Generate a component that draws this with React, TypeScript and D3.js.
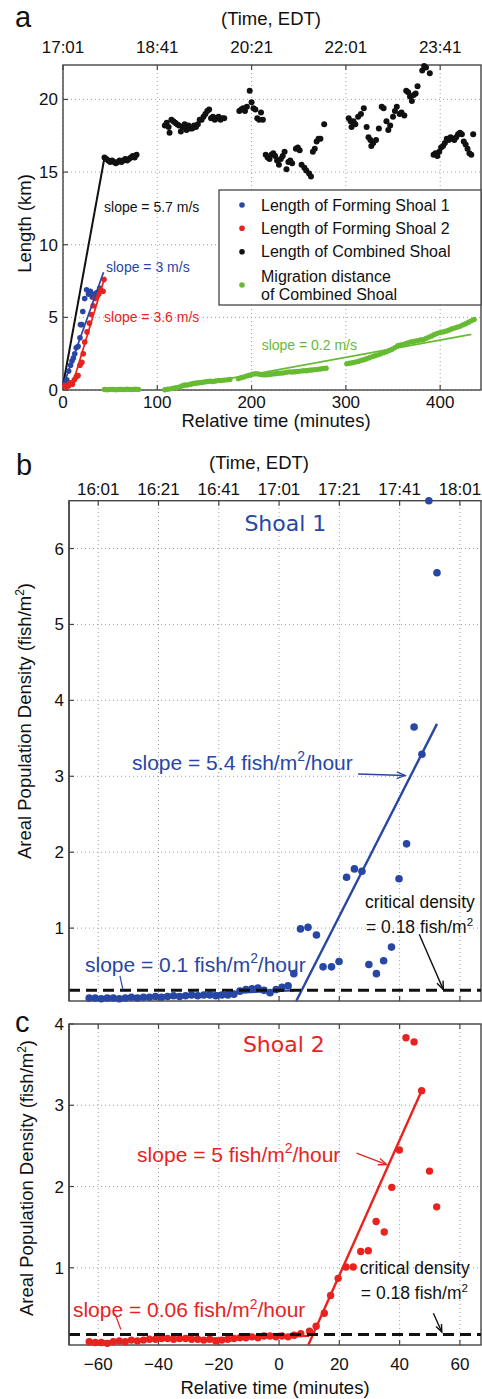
import React from 'react';
import * as d3 from 'd3';

const W = 482;
const H = 1399;
const SANS = '"Liberation Sans", Arial, Helvetica, sans-serif';
const DEJAVU = '"DejaVu Sans", Verdana, sans-serif';

const BLUE = '#2846a4';
const RED = '#e8231f';
const GREEN = '#66bb33';
const BLACK = '#111111';

// ---------------- Panel a: shoal length / migration distance ----------------
const aXTicks = [0, 100, 200, 300, 400];
const aTopLabels = ['17:01', '18:41', '20:21', '22:01', '23:41'];
const aYTicks = [0, 5, 10, 15, 20];

// straight growth segment of the combined shoal (minutes, km)
const combinedRampT = [0.5, 44];
const combinedRampV = [0.5, 16.0];

const combinedT = [
  44, 46, 48, 50, 52, 54, 56, 58, 60, 62, 64, 66, 68, 70, 72, 74, 76, 78,
  108, 110, 112, 113, 115, 117, 119, 121, 123, 125, 127, 129, 131, 133, 135, 137, 139, 141, 143, 145, 147, 149, 151, 153, 155, 157, 159, 161, 163, 165, 167, 169, 171,
  187, 189, 191, 193, 195, 198, 200, 202, 204, 206, 208, 210, 212,
  215, 217, 219, 221, 223, 225, 227, 229, 231, 233, 235, 237, 239, 241, 243, 247, 249, 251, 253, 256, 258, 261, 263, 265, 267, 269, 271, 273, 277,
  303, 305, 306, 308, 310, 313, 316, 319, 322, 324, 326, 327, 329, 332, 335, 338, 340, 343, 345, 347, 350, 352, 354, 357, 359, 362, 364, 366, 368, 370, 372, 374, 376, 381, 383, 385, 389,
  393, 395, 397, 399, 401, 403, 405, 407, 409, 411, 413, 415, 417, 419, 421, 423, 425, 427, 429, 431, 433, 435,
];
const combinedV = [
  16.0, 15.9, 15.8, 15.7, 15.8, 15.7, 15.6, 15.7, 15.8, 15.7, 15.8, 15.9, 15.8, 15.9, 16.0, 16.1, 16.0, 16.2,
  18.2, 18.4, 18.1, 17.7, 18.6, 18.5, 18.4, 18.3, 18.2, 17.8, 18.1, 18.3, 17.9, 18.2, 18.0, 18.0, 18.2, 18.1, 18.3, 18.6, 18.6, 18.8, 19.0, 19.2, 19.3, 18.7, 18.8, 18.6, 18.7, 18.8, 18.6, 18.7, 18.7,
  19.2, 19.3, 19.4, 19.2, 19.5, 20.6, 19.8, 19.4, 19.3, 18.7, 18.6, 19.1, 18.6,
  16.2, 16.0, 15.9, 16.2, 16.3, 16.1, 15.8, 15.5, 15.9, 16.1, 16.4, 15.2, 15.7, 15.8, 15.6, 16.6, 16.7, 16.5, 15.5, 15.3, 15.1, 14.9, 14.7, 16.4, 16.6, 17.1, 17.3, 17.3, 18.3,
  18.7, 18.5, 18.1, 18.5, 18.3, 18.8, 19.0, 19.4, 18.1, 17.4, 17.2, 16.8, 17.0, 17.2, 18.0, 19.5, 19.4, 18.5, 17.9, 18.2, 18.8, 19.2, 19.5, 19.0, 19.1, 18.9, 20.6, 20.5, 20.2, 19.9, 20.3, 20.4, 20.9, 22.0, 22.3, 22.2, 21.8,
  16.2, 16.3, 16.1, 16.4, 16.7, 16.8, 17.0, 17.3, 17.2, 17.4, 17.3, 17.2, 17.4, 17.6, 17.7, 17.6, 17.1, 16.9, 16.6, 16.3, 16.2, 17.6,
];

const shoal1LenT = [2, 4, 6, 8, 9.5, 11, 12.5, 14, 16, 18, 18.5, 20, 21, 23, 25, 27, 29, 31, 33, 36, 39];
const shoal1LenV = [0.5, 0.7, 1.3, 1.7, 2.0, 2.2, 2.5, 2.9, 3.0, 3.6, 4.5, 4.5, 5.4, 6.3, 6.9, 6.6, 6.8, 6.4, 6.6, 6.7, 7.0];

const shoal2LenT = [2, 4, 6, 8, 10, 12, 14, 16, 18, 20, 21.5, 23, 25.5, 28, 30, 32, 34, 36, 38, 40, 42.5, 43.5];
const shoal2LenV = [0.3, 0.2, 0.3, 0.5, 0.4, 0.7, 0.9, 1.0, 1.7, 1.9, 2.5, 3.3, 4.0, 4.6, 5.2, 5.8, 6.3, 6.5, 6.6, 6.9, 6.8, 7.6];

const migrationT = [
  44, 47, 50, 53, 56, 59, 62, 65, 68, 71, 74, 77, 80,
  108, 111, 114, 117, 120, 123, 126, 129, 132, 135, 138, 141, 144, 147, 150, 153, 156, 159, 162, 165, 168, 171, 174, 177,
  186, 189, 192, 195, 198, 201, 204, 207, 210, 213, 216, 219, 222, 225, 228, 231, 234, 237, 240, 243, 246, 249, 252, 255, 258, 261, 264, 267, 270, 273, 276, 279,
  301, 304, 307, 310, 313, 316, 319, 322, 325, 328, 331, 334, 337, 340, 343, 346, 349, 352, 355, 358, 361, 364, 367, 370, 373, 376, 379, 382, 385, 388, 391, 394, 397, 400, 403, 406, 409, 412, 415, 418, 421, 424, 427, 430, 433, 436,
];
const migrationV = [
  0.03, 0.02, 0.04, 0.03, 0.02, 0.03, 0.04, 0.03, 0.05, 0.04, 0.03, 0.05, 0.04,
  0.02, 0.05, 0.08, 0.12, 0.15, 0.20, 0.28, 0.34, 0.35, 0.40, 0.45, 0.48, 0.50, 0.52, 0.55, 0.58, 0.60, 0.58, 0.62, 0.66, 0.66, 0.68, 0.70, 0.72,
  0.78, 0.85, 0.90, 0.97, 1.02, 1.08, 1.12, 1.10, 1.06, 1.04, 1.05, 1.07, 1.10, 1.12, 1.15, 1.16, 1.18, 1.22, 1.25, 1.24, 1.26, 1.28, 1.30, 1.32, 1.33, 1.36, 1.38, 1.40, 1.42, 1.45, 1.48, 1.50,
  1.80, 1.84, 1.88, 1.92, 1.97, 2.03, 2.08, 2.15, 2.22, 2.30, 2.36, 2.42, 2.50, 2.57, 2.63, 2.72, 2.80, 2.92, 3.05, 3.10, 3.14, 3.20, 3.28, 3.32, 3.36, 3.40, 3.44, 3.46, 3.55, 3.64, 3.72, 3.82, 3.90, 3.95, 4.00, 4.05, 4.12, 4.20, 4.26, 4.32, 4.38, 4.48, 4.56, 4.66, 4.76, 4.85,
];

// linear fits (start/end in minutes, km)
const fit1LenT = [2, 43];
const fit1LenV = [0.6, 8.1];
const fit2LenT = [9.2, 44.5];
const fit2LenV = [0.2, 7.8];
const fitMigT = [110, 433];
const fitMigV = [0.0, 3.83];

const legendLabels = [
  ['Length of Forming Shoal 1'],
  ['Length of Forming Shoal 2'],
  ['Length of Combined Shoal'],
  ['Migration distance', 'of Combined Shoal'],
];
const legendColors = [BLUE, RED, BLACK, GREEN];

// ---------------- Panels b and c: areal population density ----------------
const densXTicks = [-60, -40, -20, 0, 20, 40, 60];
const densTopLabels = ['16:01', '16:21', '16:41', '17:01', '17:21', '17:41', '18:01'];
const dens1YTicks = [1, 2, 3, 4, 5, 6];
const dens2YTicks = [1, 2, 3, 4];
const criticalDensity = 0.18;

const shoal1T = [
  -63, -61, -59, -57, -55, -53, -51, -49, -47, -45, -43, -41, -39, -37, -35, -33, -31, -29, -27, -25, -23, -21, -19, -17, -15, -13, -11, -9, -7, -5, -3, -1, 1, 3,
  4.9, 7.1, 9.6, 12.4, 14.6, 17.4, 19.9, 22.4, 25.0, 27.5, 29.8, 32.3, 34.7, 37.3, 39.8, 42.3, 44.8, 47.4, 49.7, 52.4,
];
const shoal1V = [
  0.08, 0.08, 0.07, 0.08, 0.08, 0.07, 0.08, 0.09, 0.08, 0.09, 0.09, 0.10, 0.09, 0.10, 0.11, 0.10, 0.11, 0.12, 0.11, 0.12, 0.12, 0.11, 0.12, 0.12, 0.13, 0.17, 0.19, 0.20, 0.21, 0.18, 0.15, 0.19, 0.22, 0.24,
  0.40, 0.99, 1.01, 0.91, 0.49, 0.49, 0.56, 1.67, 1.78, 1.75, 0.52, 0.40, 0.57, 0.75, 1.65, 2.11, 3.65, 3.29, 6.63, 5.68,
];

const shoal2T = [
  -63, -61, -59, -57, -55, -53, -51, -49, -47, -45, -43, -41, -39, -37, -35, -33, -31, -29, -27, -25, -23, -21, -19, -17, -15, -13, -11, -9, -7, -5, -3, -1, 1, 3, 5, 7.2,
  10.1, 12.3, 15.0, 17.1, 19.6, 22.2, 24.6, 27.1, 29.6, 32.2, 34.9, 37.4, 39.9, 42.1, 44.8, 47.3, 49.9, 52.3,
];
const shoal2V = [
  0.09, 0.08, 0.08, 0.07, 0.09, 0.10, 0.09, 0.11, 0.10, 0.11, 0.12, 0.12, 0.13, 0.13, 0.12, 0.13, 0.13, 0.12, 0.12, 0.11, 0.12, 0.10, 0.11, 0.12, 0.13, 0.14, 0.14, 0.15, 0.14, 0.16, 0.16, 0.15, 0.16, 0.15, 0.17, 0.19,
  0.22, 0.28, 0.44, 0.66, 0.87, 1.01, 1.01, 1.20, 1.21, 1.57, 1.44, 1.99, 2.45, 3.83, 3.78, 3.18, 2.19, 1.75,
];

const fit1SlowT = [-63, 5];
const fit1SlowV = [0.07, 0.18];
const fit1FastT = [5.7, 52.4];
const fit1FastV = [0.04, 3.69];
const fit2SlowT = [-63, 10];
const fit2SlowV = [0.09, 0.163];
const fit2FastT = [9.7, 47.3];
const fit2FastV = [0.05, 3.18];

// ---------------- scales ----------------
const xA = d3.scaleLinear().domain([0, 443.3]).range([63, 481]);
const yA = d3.scaleLinear().domain([0, 22.37]).range([390, 65]);
const xD = d3.scaleLinear().domain([-69.7, 67]).range([69, 481]);
const yB = d3.scaleLinear().domain([0.04, 6.63]).range([1001, 500.7]);
const yC = d3.scaleLinear().domain([0.05, 4]).range([1345, 1024]);

type Scale = d3.ScaleLinear<number, number>;

const zip = (t: number[], v: number[]) => t.map((d, i) => [d, v[i]] as [number, number]);

function Frame({ x, y, xTicks, yTicks }: { x: Scale; y: Scale; xTicks: number[]; yTicks: number[] }) {
  const [x0, x1] = x.range();
  const [yb, yt] = y.range();
  const grid = '#a0a0a0';
  return (
    <g>
      {xTicks.map((t) => (
        <line key={'gx' + t} x1={x(t)} x2={x(t)} y1={yb} y2={yt} stroke={grid} strokeWidth={1} strokeDasharray="1,3" />
      ))}
      {yTicks.map((t) => (
        <line key={'gy' + t} x1={x0} x2={x1} y1={y(t)} y2={y(t)} stroke={grid} strokeWidth={1} strokeDasharray="1,3" />
      ))}
      {xTicks.map((t) => (
        <g key={'tx' + t}>
          <line x1={x(t)} x2={x(t)} y1={yb} y2={yb - 5} stroke="#444" strokeWidth={1.2} />
          <line x1={x(t)} x2={x(t)} y1={yt} y2={yt + 5} stroke="#444" strokeWidth={1.2} />
        </g>
      ))}
      {yTicks.map((t) => (
        <line key={'ty' + t} x1={x0} x2={x0 + 5} y1={y(t)} y2={y(t)} stroke="#444" strokeWidth={1.2} />
      ))}
      <rect x={x0} y={yt} width={x1 - x0} height={yb - yt} fill="none" stroke="#444" strokeWidth={1.4} />
    </g>
  );
}

function Dots({ x, y, t, v, color, r }: { x: Scale; y: Scale; t: number[]; v: number[]; color: string; r: number }) {
  return (
    <g fill={color}>
      {t.map((d, i) => (
        <circle key={i} cx={x(d)} cy={y(v[i])} r={r} />
      ))}
    </g>
  );
}

function FitLine({ x, y, t, v, color, w }: { x: Scale; y: Scale; t: number[]; v: number[]; color: string; w: number }) {
  const line = d3.line<[number, number]>().x((d) => x(d[0])).y((d) => y(d[1]));
  return <path d={line(zip(t, v)) || ''} fill="none" stroke={color} strokeWidth={w} />;
}

function Arrow({ x1, y1, x2, y2, color, w = 1.3, head = 9 }: { x1: number; y1: number; x2: number; y2: number; color: string; w?: number; head?: number }) {
  const a = Math.atan2(y2 - y1, x2 - x1);
  const s = 0.38;
  const hx1 = x2 - head * Math.cos(a - s);
  const hy1 = y2 - head * Math.sin(a - s);
  const hx2 = x2 - head * Math.cos(a + s);
  const hy2 = y2 - head * Math.sin(a + s);
  return (
    <g stroke={color} strokeWidth={w} fill="none">
      <line x1={x1} y1={y1} x2={x2} y2={y2} />
      <path d={`M${hx1},${hy1} L${x2},${y2} L${hx2},${hy2}`} />
    </g>
  );
}

function SlopeLabel({ x, y, pre, color, size }: { x: number; y: number; pre: string; color: string; size: number }) {
  return (
    <text x={x} y={y} fill={color} fontSize={size} fontFamily={SANS}>
      {pre}
      <tspan dy={-size * 0.42} fontSize={size * 0.66}>2</tspan>
      <tspan dy={size * 0.42}>/hour</tspan>
    </text>
  );
}

function CriticalLabel({ x, y1, y2, size }: { x: number; y1: number; y2: number; size: number }) {
  return (
    <g fill={BLACK} fontSize={size} fontFamily={SANS}>
      <text x={x} y={y1}>critical density</text>
      <text x={x + 1} y={y2}>
        = 0.18 fish/m
        <tspan dy={-size * 0.42} fontSize={size * 0.66}>2</tspan>
      </text>
    </g>
  );
}

function PanelA() {
  const [x0, x1] = xA.range();
  const [yb, yt] = yA.range();
  return (
    <g>
      <text x={15} y={27} fontSize={29} fontFamily={SANS} fill={BLACK}>a</text>
      <text x={(x0 + x1) / 2 - 1} y={25} fontSize={18.5} fontFamily={SANS} textAnchor="middle" fill={BLACK}>(Time, EDT)</text>
      {aXTicks.map((t, i) => (
        <text key={'top' + t} x={xA(t)} y={53} fontSize={17} fontFamily={SANS} textAnchor="middle" fill={BLACK}>{aTopLabels[i]}</text>
      ))}
      {aXTicks.map((t) => (
        <text key={'bot' + t} x={xA(t)} y={408} fontSize={17} fontFamily={SANS} textAnchor="middle" fill={BLACK}>{t}</text>
      ))}
      {aYTicks.map((t) => (
        <text key={'y' + t} x={x0 - 5} y={yA(t) + 6} fontSize={17} fontFamily={SANS} textAnchor="end" fill={BLACK}>{t}</text>
      ))}
      <text x={276} y={427} fontSize={18.5} fontFamily={SANS} textAnchor="middle" fill={BLACK}>Relative time (minutes)</text>
      <text transform={`translate(31,${(yb + yt) / 2 - 4}) rotate(-90)`} fontSize={18.5} fontFamily={SANS} textAnchor="middle" fill={BLACK}>Length (km)</text>

      <Frame x={xA} y={yA} xTicks={aXTicks} yTicks={aYTicks} />

      <FitLine x={xA} y={yA} t={combinedRampT} v={combinedRampV} color={BLACK} w={2} />
      <Dots x={xA} y={yA} t={combinedT} v={combinedV} color={BLACK} r={3} />
      <Dots x={xA} y={yA} t={migrationT} v={migrationV} color={GREEN} r={2.7} />
      <FitLine x={xA} y={yA} t={fitMigT} v={fitMigV} color={GREEN} w={1.8} />
      <Dots x={xA} y={yA} t={shoal1LenT} v={shoal1LenV} color={BLUE} r={2.8} />
      <Dots x={xA} y={yA} t={shoal2LenT} v={shoal2LenV} color={RED} r={2.8} />
      <FitLine x={xA} y={yA} t={fit1LenT} v={fit1LenV} color={BLUE} w={1.7} />
      <FitLine x={xA} y={yA} t={fit2LenT} v={fit2LenV} color={RED} w={1.7} />

      <text x={xA(43.5)} y={yA(12.25)} fontSize={14} fontFamily={SANS} fill={BLACK}>slope = 5.7 m/s</text>
      <text x={xA(45.6)} y={yA(8.14)} fontSize={14} fontFamily={SANS} fill={BLUE}>slope = 3 m/s</text>
      <text x={xA(43.5)} y={yA(4.7)} fontSize={14} fontFamily={SANS} fill={RED}>slope = 3.6 m/s</text>
      <text x={xA(210.7)} y={yA(2.75)} fontSize={14} fontFamily={SANS} fill={GREEN}>slope = 0.2 m/s</text>

      <g>
        <rect x={219} y={190} width={x1 - 219} height={115} fill="#fff" stroke="#444" strokeWidth={1.3} />
        {legendLabels.map((lines, i) => {
          const rowY = [205, 228.3, 251.7, 276][i];
          return (
            <g key={'lg' + i}>
              <circle cx={242} cy={i === 3 ? 285 : rowY} r={2.8} fill={legendColors[i]} />
              {lines.map((s, j) => (
                <text key={j} x={261} y={rowY + 5.5 + j * 18} fontSize={16} fontFamily={SANS} fill={BLACK}>{s}</text>
              ))}
            </g>
          );
        })}
      </g>
    </g>
  );
}

function PanelB() {
  const [x0, x1] = xD.range();
  const [yb, yt] = yB.range();
  return (
    <g>
      <text x={16} y={475} fontSize={29} fontFamily={SANS} fill={BLACK}>b</text>
      <text x={259} y={469} fontSize={18.5} fontFamily={SANS} textAnchor="middle" fill={BLACK}>(Time, EDT)</text>
      {densXTicks.map((t, i) => (
        <text key={'top' + t} x={xD(t)} y={494.5} fontSize={17} fontFamily={SANS} textAnchor="middle" fill={BLACK}>{densTopLabels[i]}</text>
      ))}
      {dens1YTicks.map((t) => (
        <text key={'y' + t} x={x0 - 5} y={yB(t) + 6} fontSize={17} fontFamily={SANS} textAnchor="end" fill={BLACK}>{t}</text>
      ))}
      <text transform={`translate(31,721) rotate(-90)`} fontSize={18.5} fontFamily={SANS} textAnchor="middle" fill={BLACK}>
        Areal Population Density (fish/m<tspan dy={-7} fontSize={12}>2</tspan><tspan dy={7}>)</tspan>
      </text>

      <Frame x={xD} y={yB} xTicks={densXTicks} yTicks={dens1YTicks} />

      <text x={xD(2.1)} y={yB(6.226)} fontSize={22} fontFamily={DEJAVU} textAnchor="middle" fill={BLUE}>Shoal 1</text>

      <FitLine x={xD} y={yB} t={fit1SlowT} v={fit1SlowV} color={BLUE} w={2.2} />
      <Dots x={xD} y={yB} t={shoal1T} v={shoal1V} color={BLUE} r={3.8} />
      <FitLine x={xD} y={yB} t={fit1FastT} v={fit1FastV} color={BLUE} w={2.4} />
      <line x1={x0} x2={x1} y1={yB(criticalDensity)} y2={yB(criticalDensity)} stroke={BLACK} strokeWidth={3} strokeDasharray="11,6" />

      <SlopeLabel x={xD(-48.8)} y={yB(3.08)} pre="slope = 5.4 fish/m" color={BLUE} size={21} />
      <Arrow x1={xD(26.2)} y1={yB(3.03)} x2={xD(41.8)} y2={yB(3.01)} color={BLUE} />
      <SlopeLabel x={xD(-64.4)} y={yB(0.42)} pre="slope = 0.1 fish/m" color={BLUE} size={21} />
      <line x1={xD(-52.8)} y1={yB(0.37)} x2={xD(-51.8)} y2={yB(0.19)} stroke={BLUE} strokeWidth={1.2} />

      <CriticalLabel x={xD(28.5)} y1={yB(1.27)} y2={yB(0.936)} size={17.5} />
      <Arrow x1={xD(46.5)} y1={yB(0.92)} x2={xD(54.5)} y2={yB(0.19)} color={BLACK} w={1.4} />
      <line x1={x0} x2={x0} y1={yt} y2={yb} stroke="#444" strokeWidth={1.4} />
    </g>
  );
}

function PanelC() {
  const [x0, x1] = xD.range();
  const [yb] = yC.range();
  return (
    <g>
      <text x={15} y={1032} fontSize={29} fontFamily={SANS} fill={BLACK}>c</text>
      {densXTicks.map((t) => (
        <text key={'bot' + t} x={xD(t)} y={1370} fontSize={17} fontFamily={SANS} textAnchor="middle" fill={BLACK}>
          {t < 0 ? '\u2212' + Math.abs(t) : String(t)}
        </text>
      ))}
      {dens2YTicks.map((t) => (
        <text key={'y' + t} x={x0 - 5} y={yC(t) + 6} fontSize={17} fontFamily={SANS} textAnchor="end" fill={BLACK}>{t}</text>
      ))}
      <text x={275} y={1394} fontSize={18.5} fontFamily={SANS} textAnchor="middle" fill={BLACK}>Relative time (minutes)</text>
      <text transform={`translate(33,1178) rotate(-90)`} fontSize={18.5} fontFamily={SANS} textAnchor="middle" fill={BLACK}>
        Areal Population Density (fish/m<tspan dy={-7} fontSize={12}>2</tspan><tspan dy={7}>)</tspan>
      </text>

      <Frame x={xD} y={yC} xTicks={densXTicks} yTicks={dens2YTicks} />

      <text x={xD(1.6)} y={yC(3.65)} fontSize={22} fontFamily={DEJAVU} textAnchor="middle" fill={RED}>Shoal 2</text>

      <FitLine x={xD} y={yC} t={fit2SlowT} v={fit2SlowV} color={RED} w={2.2} />
      <Dots x={xD} y={yC} t={shoal2T} v={shoal2V} color={RED} r={3.7} />
      <FitLine x={xD} y={yC} t={fit2FastT} v={fit2FastV} color={RED} w={2.4} />
      <line x1={x0} x2={x1} y1={yC(criticalDensity)} y2={yC(criticalDensity)} stroke={BLACK} strokeWidth={3} strokeDasharray="11,6" />

      <SlopeLabel x={xD(-47.1)} y={yC(2.3)} pre="slope = 5 fish/m" color={RED} size={21} />
      <Arrow x1={xD(25.7)} y1={yC(2.41)} x2={xD(35.7)} y2={yC(2.27)} color={RED} />
      <SlopeLabel x={xD(-68.4)} y={yC(0.39)} pre="slope = 0.06 fish/m" color={RED} size={21} />
      <line x1={xD(-54.4)} y1={yC(0.43)} x2={xD(-52.5)} y2={yC(0.24)} stroke={RED} strokeWidth={1.2} />

      <CriticalLabel x={xD(26.8)} y1={yC(0.924)} y2={yC(0.616)} size={17.5} />
      <Arrow x1={xD(51.2)} y1={yC(0.44)} x2={xD(54)} y2={yC(0.21)} color={BLACK} w={1.4} head={8} />
      <line x1={x0} x2={x0} y1={yC(4)} y2={yb} stroke="#444" strokeWidth={1.4} />
    </g>
  );
}

export default function App() {
  return (
    <svg
      width={W}
      height={H}
      viewBox={`0 0 ${W} ${H}`}
      style={{ position: 'absolute', left: 0, top: 0, background: '#fff' }}
    >
      <rect x={0} y={0} width={W} height={H} fill="#fff" />
      <PanelA />
      <PanelB />
      <PanelC />
    </svg>
  );
}
